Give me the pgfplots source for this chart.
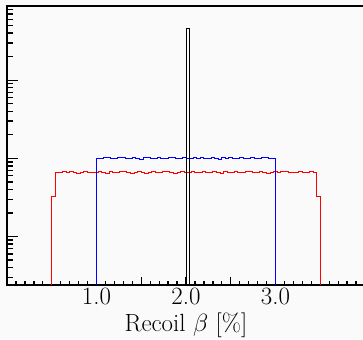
\documentclass[border=0pt]{standalone}
\usepackage{pgfplots}
\pgfplotsset{compat=1.18}
\definecolor{bgc}{RGB}{250,250,250}
\begin{document}
\begin{tikzpicture}
\useasboundingbox (0,0) rectangle (363pt,339pt);
\fill[bgc] (0,0) rectangle (363pt,339pt);
\clip (0,0) rectangle (363pt,339pt);
\begin{axis}[
  at={(7pt,54pt)}, anchor=south west,
  scale only axis, width=358pt, height=279pt,
  xmin=0, xmax=4, ymode=log, ymin=240, ymax=8.9e5,
  axis line style={line width=2pt},
  xtick={0,0.5,1,1.5,2,2.5,3,3.5,4},
  xticklabels={,,1.0,,2.0,,3.0,,},
  minor x tick num=4,
  ytick=\empty, minor ytick={},
  tick pos=left, tick align=inside,
  major tick length=8pt, minor tick length=4.3pt,
  every tick/.style={line width=1.3pt, black},
  xticklabel style={font=\Huge, anchor=base, yshift=-20pt, inner sep=0pt},
  xlabel={Recoil $\beta$ [\%]},
  xlabel style={font=\Huge, at={(axis description cs:0.5,0)}, anchor=base, yshift=-47pt, inner sep=0pt},
]
\addplot[red, line width=1pt, const plot] table {
x y
0.50 1
0.50 3300
0.54 6650
0.58 6500
0.62 6700
0.66 6550
0.70 6750
0.74 6600
0.78 6450
0.82 6650
0.86 6800
0.90 6600
0.94 6500
0.98 6650
1.02 6750
1.06 6550
1.10 6450
1.14 6700
1.18 6600
1.22 6500
1.26 6750
1.30 6850
1.34 6600
1.38 6450
1.42 6600
1.46 6700
1.50 6550
1.54 6400
1.58 6600
1.62 6750
1.66 6650
1.70 6500
1.74 6700
1.78 6850
1.82 6600
1.86 6450
1.90 6650
1.94 6750
1.98 6550
2.02 6600
2.06 6700
2.10 6500
2.14 6600
2.18 6800
2.22 6650
2.26 6500
2.30 6750
2.34 6600
2.38 6450
2.42 6700
2.46 6550
2.50 6650
2.54 6800
2.58 6500
2.62 6600
2.66 6850
2.70 6700
2.74 6500
2.78 6600
2.82 6750
2.86 6650
2.90 6450
2.94 6600
2.98 6700
3.02 6550
3.06 6700
3.10 6850
3.14 6650
3.18 6500
3.22 6600
3.26 6750
3.30 6600
3.34 6500
3.38 6700
3.42 6600
3.46 3300
3.50 1
};
\addplot[blue, line width=1pt, const plot] table {
x y
1.00 1
1.00 10000
1.04 9850
1.08 10150
1.12 10300
1.16 10000
1.20 9900
1.24 10300
1.28 10150
1.32 9850
1.36 10100
1.40 10250
1.44 10000
1.48 9800
1.52 10150
1.56 10300
1.60 10050
1.64 9900
1.68 10200
1.72 10000
1.76 9850
1.80 10150
1.84 10350
1.88 10050
1.92 9900
1.96 10150
2.00 10000
2.04 9850
2.08 10200
2.12 10050
2.16 10300
2.20 9900
2.24 10100
2.28 10250
2.32 10000
2.36 9800
2.40 10150
2.44 10000
2.48 10250
2.52 10050
2.56 9900
2.60 10200
2.64 10000
2.68 9850
2.72 10200
2.76 10100
2.80 9900
2.84 10150
2.88 10300
2.92 10000
2.96 10050
3.00 1
};
\addplot[black, line width=1pt, const plot] table {
x y
2.00 1
2.00 465000
2.04 1
};
\end{axis}
\begin{axis}[
  at={(7pt,54pt)}, anchor=south west,
  scale only axis, width=358pt, height=279pt,
  xmin=0, xmax=4, ymode=log, ymin=240, ymax=8.9e5,
  axis line style={draw=none},
  xtick=\empty, minor xtick={},
  ytick={1000,10000,100000},
  yticklabels={,,},
  minor ytick={300,400,500,600,700,800,900,2000,3000,4000,5000,6000,7000,8000,9000,20000,30000,40000,50000,60000,70000,80000,90000,200000,300000,400000,500000,600000,700000,800000},
  tick pos=left, tick align=inside,
  major tick length=11pt, minor tick length=5.5pt,
  every tick/.style={line width=1.3pt, black},
]
\end{axis}
\end{tikzpicture}
\end{document}
